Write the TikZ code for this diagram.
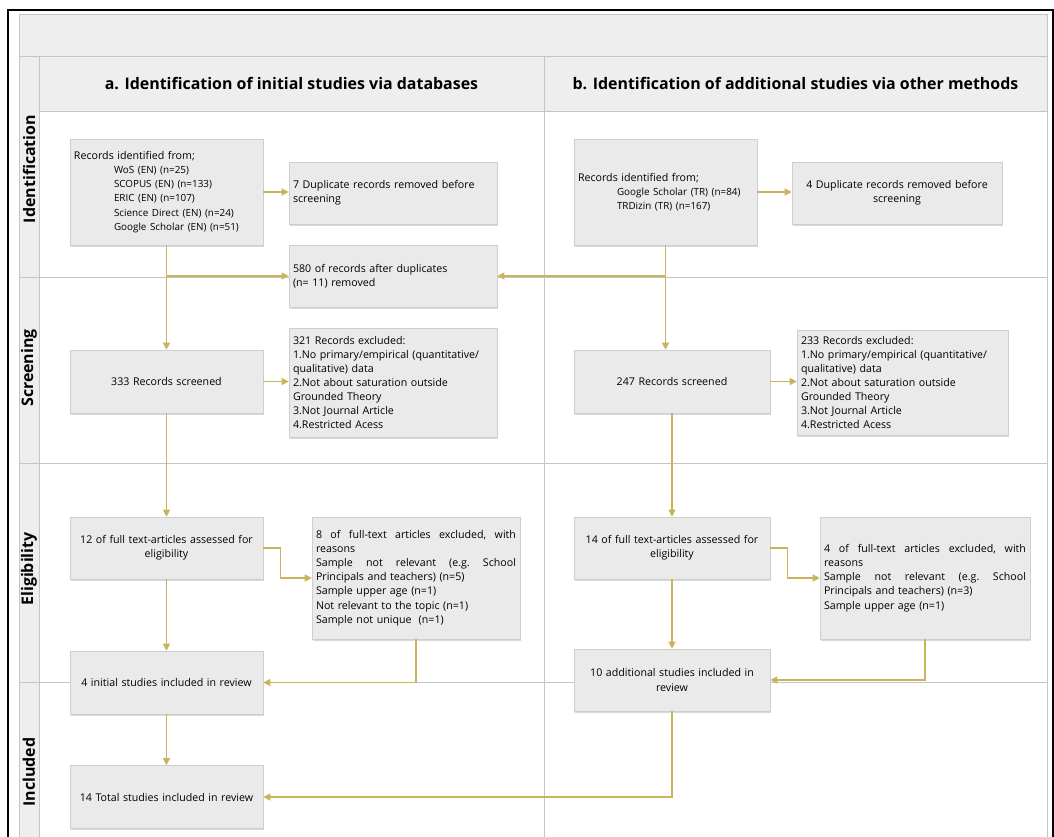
\documentclass[tikz,border=0pt]{standalone}
\usepackage{fontspec}
\setmainfont{Open Sans}
\usetikzlibrary{arrows, arrows.meta, positioning, shadows}
\definecolor{flowgold}{RGB}{201, 180, 92}
\definecolor{lanegray}{RGB}{238, 238, 238}
\definecolor{laneline}{RGB}{196, 198, 198}
\definecolor{boxfill}{RGB}{234, 234, 234}
\definecolor{boxline}{RGB}{206, 206, 206}
\newcommand{\jline}[2]{\makebox[#1][s]{\frenchspacing\spaceskip=0.28em plus 1fil\relax #2}}

\begin{document}
\begin{tikzpicture}[x=1bp, y=-1bp,
    every node/.style={font=\fontsize{10.7}{14.2}\selectfont},
    box/.style={draw=boxline, fill=boxfill, line width=0.6bp, inner sep=4bp,
        drop shadow={shadow xshift=1bp, shadow yshift=-1.5bp, opacity=0.3}},
    flow/.style={draw=flowgold, line width=1.1bp, ->, >={Triangle[length=7bp, width=7bp]}},
    lanetitle/.style={font=\fontsize{16}{18}\selectfont\bfseries, rotate=90},
    coltitle/.style={font=\fontsize{16}{18}\selectfont\bfseries}]
    \useasboundingbox (0,0) rectangle (1054,837);
    \clip (0,0) rectangle (1054,837);
    \fill[white] (0,0) rectangle (1054,837);

    \fill[lanegray] (19,14) rectangle (1047,111);
    \fill[lanegray] (19,56) rectangle (39,860);
    \draw[laneline] (19,860) -- (19,14) -- (1047,14) -- (1047,860);
    \draw[laneline] (19,56) -- (1047,56);
    \draw[laneline] (39,111) -- (1047,111);
    \draw[laneline] (39,56) -- (39,860);
    \draw[laneline] (544,56) -- (544,860);
    \draw[laneline] (19,277) -- (1047,277);
    \draw[laneline] (19,463) -- (1047,463);
    \draw[laneline] (19,682) -- (1047,682);
    \draw[black, line width=1.4bp] (8,860) -- (8,10) -- (1053,10) -- (1053,860);

    \node[lanetitle] (lident) at (29,169) {Identification};
    \node[lanetitle] (lscreen) at (29,368) {Screening};
    \node[lanetitle] (lelig) at (29,569) {Eligibility};
    \node[lanetitle] (lincl) at (29,772) {Included};
    \node[coltitle] (cola) at (291.5,84) {a. Identification of initial studies via databases};
    \node[coltitle] (colb) at (795.5,84) {b. Identification of additional studies via other methods};

    \node[box, text width=185bp, minimum height=106bp, align=left] (recA) at (166.5,192) {Records identified from;\\
        {\fontsize{9.9}{14.2}\selectfont\hspace*{40bp}WoS (EN) (n=25)\\
        \hspace*{40bp}SCOPUS (EN) (n=133)\\
        \hspace*{40bp}ERIC (EN) (n=107)\\
        \hspace*{40bp}Science Direct (EN) (n=24)\\
        \hspace*{40bp}Google Scholar (EN) (n=51)}\\[4bp]};
    \node[box, text width=200bp, minimum height=62bp, align=left] (dupA) at (393,193) {7 Duplicate records removed before\\ screening};
    \node[box, text width=200bp, minimum height=62bp, align=left] (mergeA) at (393,276) {580 of records after duplicates\\ (n= 11) removed};
    \node[box, text width=185bp, minimum height=63bp, align=center] (screenA) at (166.5,381.5) {333 Records screened};
    \node[box, text width=200bp, minimum height=109bp, align=left] (exclA) at (393,382.5) {321 Records excluded:\\
        1.No primary/empirical (quantitative/\\ qualitative) data\\
        2.Not about saturation outside\\ Grounded Theory\\
        3.Not Journal Article\\ 4.Restricted Acess};
    \node[box, text width=185bp, minimum height=62bp, align=center] (eligA) at (166.5,548) {12 of full text-articles assessed for\\ eligibility};
    \node[box, text width=200bp, minimum height=122bp, align=left] (ftexA) at (416,578) {\jline{200bp}{8 of full-text articles excluded, with}\\ reasons\\
        \jline{200bp}{Sample not relevant (e.g. School}\\ Principals and teachers) (n=5)\\
        Sample upper age (n=1)\\ Not relevant to the topic (n=1)\\ Sample not unique\ \ (n=1)\\[4bp]};
    \node[box, text width=185bp, minimum height=63bp, align=center] (inclA) at (166.5,682.5) {4 initial studies included in review};
    \node[box, text width=185bp, minimum height=63bp, align=center] (total) at (166.5,797) {14 Total studies included in review};

    \node[box, text width=175bp, minimum height=106bp, align=left] (recB) at (665.5,192) {Records identified from;\\
        {\fontsize{9.9}{14.2}\selectfont\hspace*{39bp}Google Scholar (TR) (n=84)\\
        \hspace*{39bp}TRDizin (TR) (n=167)}};
    \node[box, text width=202bp, minimum height=62bp, align=center] (dupB) at (897,193) {4 Duplicate records removed before\\ screening};
    \node[box, text width=188bp, minimum height=63bp, align=center] (screenB) at (672,381.5) {247 Records screened};
    \node[box, text width=203bp, minimum height=105bp, align=left] (exclB) at (902.5,382.5) {233 Records excluded:\\
        1.No primary/empirical (quantitative/\\ qualitative) data\\
        2.Not about saturation outside\\ Grounded Theory\\
        3.Not Journal Article\\ 4.Restricted Acess};
    \node[box, text width=188bp, minimum height=62bp, align=center] (eligB) at (672,548) {14 of full text-articles assessed for\\ eligibility};
    \node[box, text width=202bp, minimum height=122bp, align=left] (ftexB) at (925,578) {\jline{202bp}{4 of full-text articles excluded, with}\\ reasons\\
        \jline{202bp}{Sample not relevant (e.g. School}\\ Principals and teachers) (n=3)\\
        Sample upper age (n=1)\\[14bp]};
    \node[box, text width=188bp, minimum height=62bp, align=center] (inclB) at (672,680) {10 additional studies included in\\ review};

    \coordinate (splitA) at (recA.south |- mergeA.west);
    \coordinate (splitB) at (recB.south |- mergeA.east);
    \draw[flow] (recA.east) -- (recA.east -| dupA.west);
    \draw[flow] (recA) -- (screenA);
    \draw[flow] (splitA) -- (mergeA.west);
    \draw[flow] (screenA.east) -- (screenA.east -| exclA.west);
    \draw[flow] (screenA) -- (eligA);
    \draw[flow] (eligA.east) -- ++(17,0) |- (ftexA.west);
    \draw[flow] (eligA) -- (inclA);
    \draw[flow] (ftexA.south) |- (inclA.east);
    \draw[flow] (inclA) -- (total);

    \draw[flow] (recB.east) -- (recB.east -| dupB.west);
    \draw[flow] (recB.south) -- (recB.south |- screenB.north);
    \draw[flow] (splitB) -- (mergeA.east);
    \draw[flow] (screenB.east) -- (screenB.east -| exclB.west);
    \draw[flow] (screenB) -- (eligB);
    \draw[flow] (eligB.east) -- ++(17,0) |- (ftexB.west);
    \draw[flow] (eligB) -- (inclB);
    \draw[flow] (ftexB.south) |- (inclB.east);
    \draw[flow] (inclB.south) |- (total.east);
\end{tikzpicture}
\end{document}
